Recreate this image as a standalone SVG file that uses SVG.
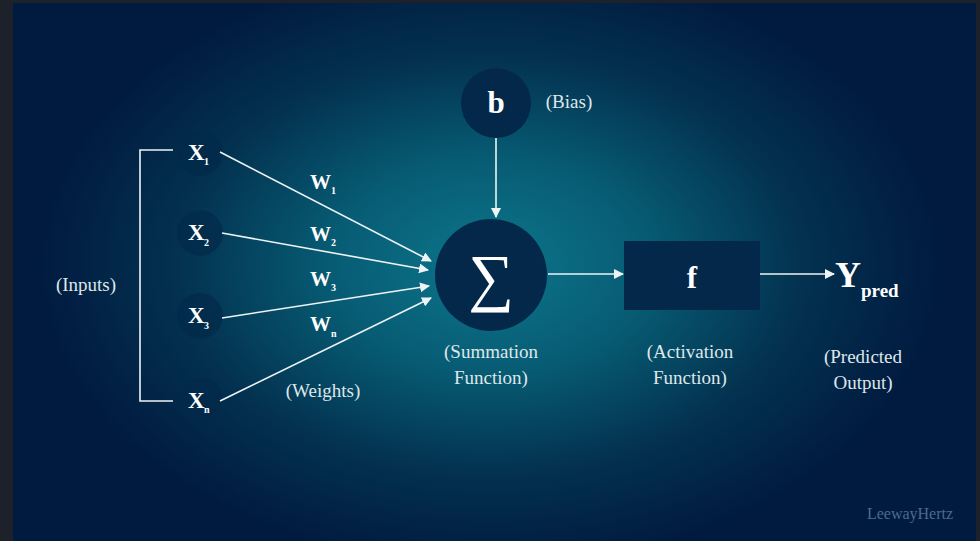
<svg xmlns="http://www.w3.org/2000/svg" width="980" height="541" viewBox="0 0 980 541">
<defs>
<radialGradient id="bg" gradientUnits="userSpaceOnUse" cx="490" cy="265" r="300" gradientTransform="translate(490 265) scale(1.5 1) translate(-490 -265)">
<stop offset="0" stop-color="#0c768b"/>
<stop offset="0.35" stop-color="#075c74"/>
<stop offset="0.7" stop-color="#03314f"/>
<stop offset="1" stop-color="#011b40"/>
</radialGradient>
<marker id="ah" markerWidth="10" markerHeight="10" refX="9" refY="5" orient="auto" markerUnits="userSpaceOnUse">
<path d="M0,0 L10,5 L0,10 z" fill="#eef4f6"/>
</marker>
<style>
text{font-family:"Liberation Serif","Times New Roman",serif}
.lbl{fill:#dfe7ea;font-size:19px;text-anchor:middle}
.sym{fill:#ffffff;font-weight:bold}
.con{stroke:#eef4f6;stroke-width:1.6;fill:none}
.inp{fill:#03294a;fill-opacity:0.7}
.dark{fill:#04284a}
</style>
</defs>
<rect x="0" y="0" width="980" height="541" fill="#1d2129"/>
<rect x="13" y="3" width="963" height="538" fill="url(#bg)"/>

<g id="bracket">
<path class="con" d="M173,150 H140 V401 H173"/>
<text class="lbl" x="86" y="291">(Inputs)</text>
</g>

<g id="x1"><circle class="inp" cx="200" cy="153" r="23"/><text class="sym" x="188" y="160" font-size="23">X</text><text class="sym" x="204" y="165" font-size="10">1</text></g>
<g id="x2"><circle class="inp" cx="200" cy="233" r="23"/><text class="sym" x="188" y="240" font-size="23">X</text><text class="sym" x="204" y="246" font-size="10">2</text></g>
<g id="x3"><circle class="inp" cx="200" cy="316" r="23"/><text class="sym" x="188" y="323" font-size="23">X</text><text class="sym" x="204" y="329" font-size="10">3</text></g>
<g id="xn"><circle class="inp" cx="200" cy="400" r="23"/><text class="sym" x="188" y="408" font-size="23">X</text><text class="sym" x="204" y="413" font-size="10">n</text></g>

<g id="weights">
<text class="sym" x="310" y="189" font-size="21">W</text><text class="sym" x="331" y="194" font-size="10">1</text>
<text class="sym" x="310" y="241" font-size="21">W</text><text class="sym" x="331" y="246" font-size="10">2</text>
<text class="sym" x="310" y="286" font-size="21">W</text><text class="sym" x="331" y="291" font-size="10">3</text>
<text class="sym" x="310" y="331" font-size="21">W</text><text class="sym" x="331" y="337" font-size="10">n</text>
<text class="lbl" x="323" y="397">(Weights)</text>
</g>

<g id="bias">
<circle class="dark" cx="496" cy="103" r="35"/>
<text class="sym" x="496" y="113" font-size="31" text-anchor="middle">b</text>
<text class="lbl" x="569" y="108">(Bias)</text>
</g>

<g id="sum">
<circle class="dark" cx="491" cy="275" r="56"/>
<text x="491" y="299" font-size="64" fill="#ffffff" text-anchor="middle">∑</text>
<text class="lbl" x="491" y="358">(Summation</text>
<text class="lbl" x="491" y="384">Function)</text>
</g>

<g id="act">
<rect class="dark" x="624" y="241" width="136" height="69"/>
<text class="sym" x="692" y="288" font-size="31" text-anchor="middle">f</text>
<text class="lbl" x="690" y="358">(Activation</text>
<text class="lbl" x="690" y="384">Function)</text>
</g>

<g id="out">
<text class="sym" x="835" y="287" font-size="36">Y</text>
<text class="sym" x="861" y="297" font-size="19">pred</text>
<text class="lbl" x="863" y="363">(Predicted</text>
<text class="lbl" x="863" y="389">Output)</text>
</g>

<g id="connectors">
<line class="con" x1="220" y1="152" x2="431" y2="261" marker-end="url(#ah)"/>
<line class="con" x1="222" y1="233" x2="428" y2="270" marker-end="url(#ah)"/>
<line class="con" x1="222" y1="318" x2="429" y2="286" marker-end="url(#ah)"/>
<line class="con" x1="220" y1="401" x2="431" y2="298" marker-end="url(#ah)"/>
<line class="con" x1="496" y1="138" x2="496" y2="217" marker-end="url(#ah)"/>
<line class="con" x1="548" y1="274" x2="623" y2="274" marker-end="url(#ah)"/>
<line class="con" x1="760" y1="274" x2="834" y2="274" marker-end="url(#ah)"/>
</g>

<text x="910" y="519" font-size="16" fill="#4d6a8c" text-anchor="middle">LeewayHertz</text>
</svg>
